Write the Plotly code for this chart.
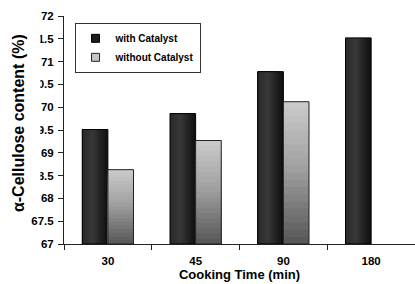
import plotly.graph_objects as go

# ---- data ----
categories = ["30", "45", "90", "180"]
with_catalyst = [69.51, 69.86, 70.78, 71.52]
without_categories = ["30", "45", "90"]
without_catalyst = [68.63, 69.27, 70.12]
y_tick_vals = [67, 67.5, 68, 68.5, 69, 69.5, 70, 70.5, 71, 71.5, 72]
y_tick_text = ["67", "67.5", "68", "68.5", "69", "69.5", "70", "70.5", "71", "71.5", "72"]

Y_BASE = 67
BAR_W = 0.292
FONT = "Liberation Sans, Arial, sans-serif"


def hex_to_rgb(h):
    h = h.lstrip("#")
    return [int(h[i:i + 2], 16) for i in (0, 2, 4)]


def grad(stops, p):
    for (p0, c0), (p1, c1) in zip(stops, stops[1:]):
        if p0 <= p <= p1:
            t = (p - p0) / (p1 - p0) if p1 > p0 else 0
            a, b = hex_to_rgb(c0), hex_to_rgb(c1)
            return "rgb(%d,%d,%d)" % tuple(round(a[i] + (b[i] - a[i]) * t) for i in range(3))
    return stops[-1][1]


with_stops = [(0.0, "#2a2a2a"), (0.4, "#383838"), (1.0, "#0e0e0e")]
without_stops = [(0.0, "#565656"), (0.55, "#a2a2a2"), (1.0, "#cbcbcb")]

fig = go.Figure()

# legend entries
fig.add_trace(go.Scatter(x=[None], y=[None], mode="markers", name="with Catalyst",
                         marker=dict(symbol="square", size=8, color="#1c1c1c",
                                     line=dict(color="#000", width=1))))
fig.add_trace(go.Scatter(x=[None], y=[None], mode="markers", name="without Catalyst",
                         marker=dict(symbol="square", size=8, color="#c4c4c4",
                                     line=dict(color="#222", width=1))))

# "with Catalyst": horizontal gradient built from overlapping bars
K = 12
heights_with = [v - Y_BASE for v in with_catalyst]
for k in range(K):
    frac = (K - k) / K
    p = (K - k - 0.5) / K
    fig.add_trace(go.Bar(x=categories, y=heights_with, base=Y_BASE,
                         offset=-BAR_W, width=BAR_W * frac,
                         marker=dict(color=grad(with_stops, p), line=dict(width=0)),
                         showlegend=False, hoverinfo="skip"))
fig.add_trace(go.Bar(x=categories, y=heights_with, base=Y_BASE, offset=-BAR_W, width=BAR_W,
                     marker=dict(color="rgba(0,0,0,0)", line=dict(color="#000", width=1)),
                     showlegend=False, hoverinfo="skip"))

# "without Catalyst": vertical gradient built from overlapping bars
N = 20
for j in range(N):
    frac = (N - j) / N
    q = (N - j - 0.5) / N
    fig.add_trace(go.Bar(x=without_categories,
                         y=[(v - Y_BASE) * frac for v in without_catalyst], base=Y_BASE,
                         offset=0, width=BAR_W,
                         marker=dict(color=grad(without_stops, q), line=dict(width=0)),
                         showlegend=False, hoverinfo="skip"))
fig.add_trace(go.Bar(x=without_categories, y=[v - Y_BASE for v in without_catalyst],
                     base=Y_BASE, offset=0, width=BAR_W,
                     marker=dict(color="rgba(0,0,0,0)", line=dict(color="#222", width=1)),
                     showlegend=False, hoverinfo="skip"))

fig.update_layout(
    width=415, height=284,
    margin=dict(l=64, r=0, t=16, b=40),
    paper_bgcolor="white", plot_bgcolor="white",
    barmode="overlay",
    font=dict(family=FONT, color="black", weight="bold"),
    showlegend=True,
    legend=dict(x=0.03, y=0.97, xanchor="left", yanchor="top",
                bgcolor="white", bordercolor="#333", borderwidth=1,
                font=dict(size=10, family=FONT, weight="bold"),
                tracegroupgap=0, itemwidth=30),
    xaxis=dict(type="category", categoryorder="array", categoryarray=categories,
               range=[-0.5, 3.5],
               tickson="boundaries", ticks="outside", ticklen=5, tickcolor="#222",
               showline=True, linecolor="#222", linewidth=1, showgrid=False,
               tickfont=dict(size=11.5, family=FONT, weight="bold"),
               ticklabelstandoff=6,
               title=dict(text="Cooking Time (min)", standoff=2,
                          font=dict(size=13, family=FONT, weight="bold"))),
    yaxis=dict(range=[67, 72], tickvals=y_tick_vals, ticktext=y_tick_text,
               ticks="outside", ticklen=5, tickcolor="#222",
               showline=True, linecolor="#222", linewidth=1, showgrid=False,
               zeroline=False, ticklabelstandoff=2,
               tickfont=dict(size=11.5, family=FONT, weight="bold")),
    annotations=[dict(text="α-Cellulose content (%)", textangle=-90,
                      xref="paper", yref="paper", x=-(64 - 40.5) / 351, y=0.53,
                      xanchor="right", yanchor="middle", showarrow=False,
                      width=184, height=43, bgcolor="white", borderpad=0,
                      font=dict(size=16, family=FONT, weight="bold", color="black"))],
)

fig.write_html("out.html", config={"displayModeBar": False},
               post_script="document.body.style.margin='0';document.body.style.padding='0';")
